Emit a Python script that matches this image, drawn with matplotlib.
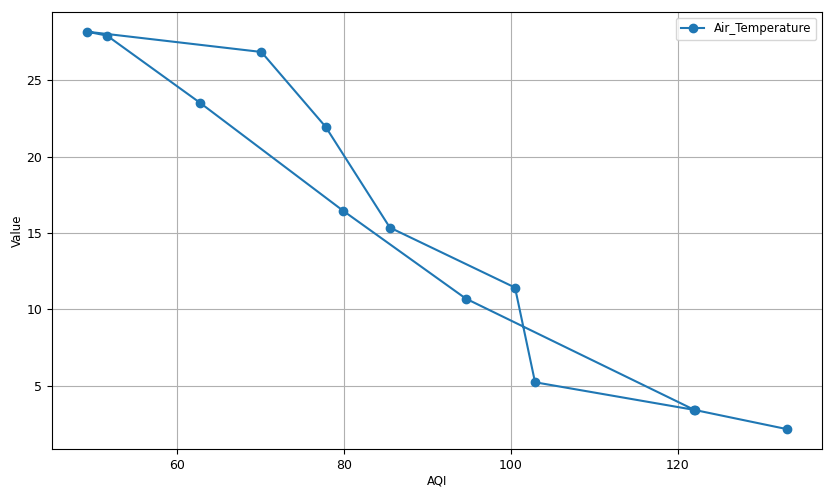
import matplotlib
matplotlib.use("Agg")
import matplotlib.pyplot as plt

# AQI vs air temperature, in the order the line is drawn
aqi = [133.1, 122.0, 94.6, 79.9, 62.7, 51.6, 49.2, 70.1, 77.8, 85.5, 100.5, 102.9, 122.1]
air_temperature = [2.15, 3.41, 10.7, 16.45, 23.54, 27.92, 28.18, 26.85, 21.95, 15.35, 11.42, 5.22, 3.40]

plt.rcParams['font.size'] = 8.5
plt.rcParams['xtick.labelsize'] = 9
plt.rcParams['ytick.labelsize'] = 9

fig = plt.figure(figsize=(8.32, 4.91), dpi=100)
ax = fig.add_axes([0.0625, 0.0855, 0.9255, 0.8905])

ax.plot(aqi, air_temperature, 'o-', color='#1f77b4', label='Air_Temperature')

ax.set_xlabel('AQI', labelpad=2)
ax.set_ylabel('Value', labelpad=2)
ax.grid(True)
ax.legend(loc='upper right')

fig.savefig('out.png', dpi=100)
